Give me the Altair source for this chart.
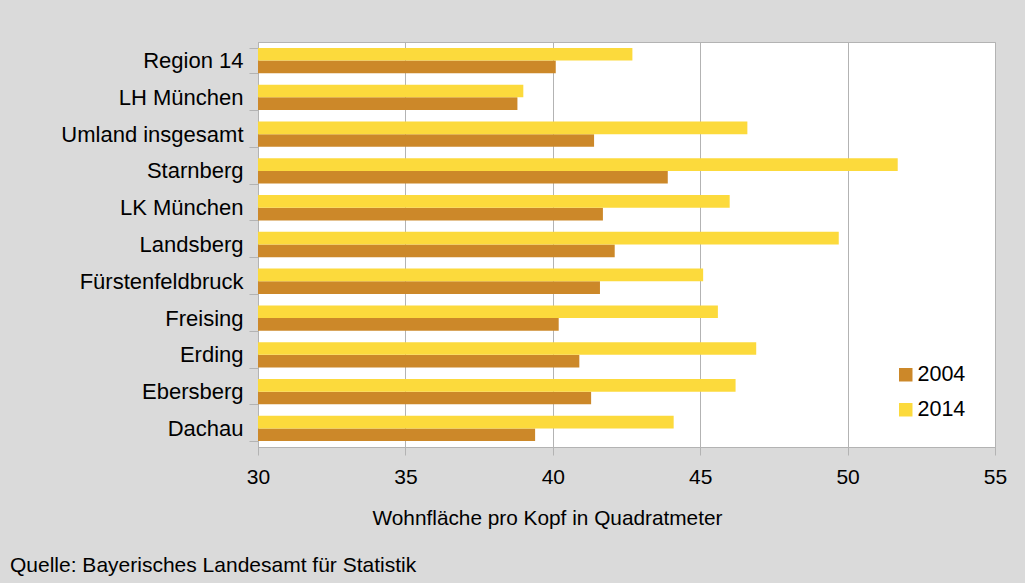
import altair as alt
import pandas as pd

regions = ["Region 14\u00a0", "LH München", "Umland insgesamt", "Starnberg", "LK München",
           "Landsberg", "Fürstenfeldbruck", "Freising", "Erding", "Ebersberg", "Dachau"]
years = ["2004", "2014"]
values_2004 = [40.1, 38.8, 41.4, 43.9, 41.7, 42.1, 41.6, 40.2, 40.9, 41.3, 39.4]
values_2014 = [42.7, 39.0, 46.6, 51.7, 46.0, 49.7, 45.1, 45.6, 46.9, 46.2, 44.1]
x_ticks = [30, 35, 40, 45, 50, 55]
colors = ["#CC8829", "#FCDA3C"]

rows = []
for r, a, b in zip(regions, values_2004, values_2014):
    rows.append({"Region": r, "Jahr": "2004", "Wert": a})
    rows.append({"Region": r, "Jahr": "2014", "Wert": b})
df = pd.DataFrame(rows)

FONT = "Liberation Sans"
GREY = "#b3b3b3"

chart = alt.Chart(df).mark_bar(clip=True).encode(
    y=alt.Y("Region:N", sort=regions,
            scale=alt.Scale(paddingInner=0.31, paddingOuter=0.16),
            axis=alt.Axis(title=None, tickBand="extent", tickSize=9, labelPadding=6,
                          labelFontSize=22, labelColor="black", labelFont=FONT, labelLimit=0,
                          tickColor=GREY, domainColor=GREY, grid=False)),
    yOffset=alt.YOffset("Jahr:N", sort=["2014", "2004"]),
    x=alt.X("Wert:Q", scale=alt.Scale(domain=[30, 55], zero=False, nice=False),
            axis=alt.Axis(values=x_ticks, title="Wohnfläche pro Kopf in Quadratmeter",
                          labelFontSize=21, labelFont=FONT, labelColor="black", labelPadding=11,
                          labelFlush=False,
                          tickSize=8, tickColor=GREY, domainColor=GREY, gridColor=GREY,
                          grid=True, titleFontSize=20.8, titleFont=FONT, titleColor="black",
                          titleFontWeight="normal", titlePadding=21, titleX=289,
                          titleAlign="center")),
    color=alt.Color("Jahr:N", scale=alt.Scale(domain=years, range=colors),
                    legend=alt.Legend(title=None, orient="none", legendX=637, legendY=322,
                                      symbolType="square", symbolSize=182, symbolStrokeWidth=0,
                                      symbolOpacity=1, labelFontSize=21.5, labelFont=FONT,
                                      labelColor="black", labelOffset=1, rowPadding=12,
                                      padding=0)),
).properties(
    width=737, height=405,
    padding={"left": 258, "top": 42, "right": 30, "bottom": 136},
    autosize=alt.AutoSizeParams(type="none"),
    background="#dadada",
    title=alt.TitleParams("Quelle: Bayerisches Landesamt für Statistik", orient="bottom",
                          anchor="start", frame="group", dx=-248, offset=27, baseline="top",
                          fontSize=21, font=FONT, fontWeight="normal", color="black"),
).configure_view(fill="white", stroke=GREY, strokeWidth=1)

chart.save("out.html", embed_options={"renderer": "svg", "actions": False})
